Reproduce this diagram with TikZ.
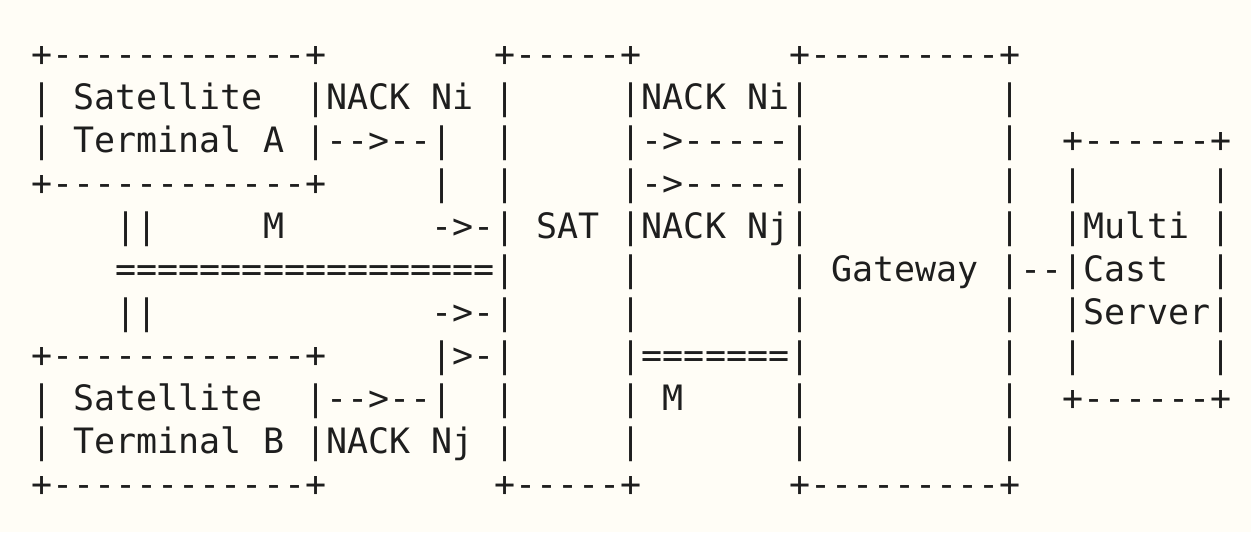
\documentclass[tikz,border=0pt]{standalone}
\usepackage{fontspec}
\setmonofont{DejaVu Sans Mono}
\definecolor{paper}{HTML}{FFFDF6}
\definecolor{ink}{HTML}{1E1E1E}
\tikzset{
  asciirow/.style={anchor=base west, inner sep=0pt, outer sep=0pt,
    text=ink, font=\ttfamily\fontsize{17.48pt}{20pt}\selectfont\frenchspacing}
}
\begin{document}
\begin{tikzpicture}[x=0.5pt,y=-0.5pt]
  \fill[paper] (0,0) rectangle (1251,532);
  \useasboundingbox (0,0) rectangle (1251,532);
  % one text row every 43 units, 57 character columns
  \node[asciirow] (r0)  at (31.5, 66.5) {+------------+~~~~~~~~+-----+~~~~~~~+---------+};
  \node[asciirow] (r1)  at (31.5,109.5) {|~Satellite~~|NACK~Ni~|~~~~~|NACK~Ni|~~~~~~~~~|};
  \node[asciirow] (r2)  at (31.5,152.5) {|~Terminal~A~|-{}->-{}-|~~|~~~~~|->-{}-{}-{}-{}-|~~~~~~~~~|~~+-{}-{}-{}-{}-{}-+};
  \node[asciirow] (r3)  at (31.5,195.5) {+------------+~~~~~|~~|~~~~~|->-----|~~~~~~~~~|~~|~~~~~~|};
  \node[asciirow] (r4)  at (31.5,238.5) {~~~~||~~~~~M~~~~~~~->-|~SAT~|NACK~Nj|~~~~~~~~~|~~|Multi~|};
  \node[asciirow] (r5)  at (31.5,281.5) {~~~~==================|~~~~~|~~~~~~~|~Gateway~|-{}-|Cast~~|};
  \node[asciirow] (r6)  at (31.5,324.5) {~~~~||~~~~~~~~~~~~~->-|~~~~~|~~~~~~~|~~~~~~~~~|~~|Server|};
  \node[asciirow] (r7)  at (31.5,367.5) {+------------+~~~~~|>-|~~~~~|=======|~~~~~~~~~|~~|~~~~~~|};
  \node[asciirow] (r8)  at (31.5,410.5) {|~Satellite~~|-{}->-{}-|~~|~~~~~|~M~~~~~|~~~~~~~~~|~~+------+};
  \node[asciirow] (r9)  at (31.5,453.5) {|~Terminal~B~|NACK~Nj~|~~~~~|~~~~~~~|~~~~~~~~~|};
  \node[asciirow] (r10) at (31.5,496.5) {+------------+~~~~~~~~+-----+~~~~~~~+---------+};
\end{tikzpicture}
\end{document}
